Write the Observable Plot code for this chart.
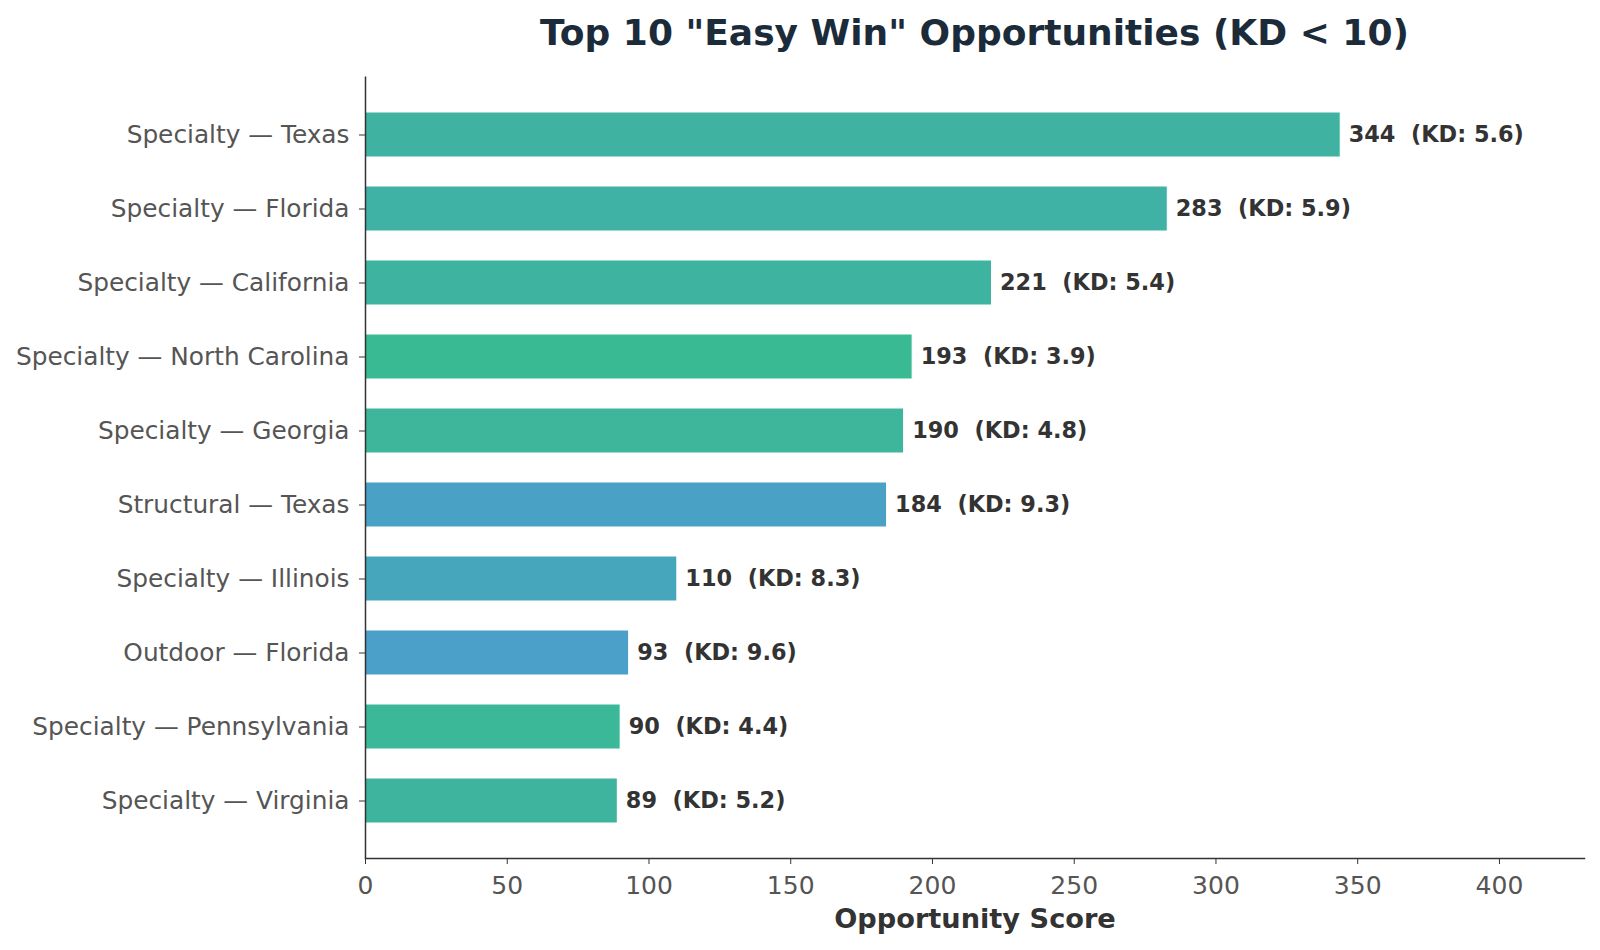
<!DOCTYPE html>
<html>
<head>
<meta charset="utf-8">
<script src="https://cdn.jsdelivr.net/npm/d3@7"></script>
<script src="https://cdn.jsdelivr.net/npm/@observablehq/plot@0.6"></script>
<style>
  html, body { margin: 0; padding: 0; background: #fff; overflow: hidden; }
  body { width: 1600px; height: 950px; font-family: "DejaVu Sans", sans-serif; }
  #title { height: 62px; margin-left: 365px; width: 1219px; text-align: center;
           font-size: 36px; font-weight: bold; color: #1c2b3a; line-height: 66px; white-space: nowrap; overflow: hidden; }
  #chart { height: 888px; }
  #chart svg { display: block; max-width: none; font-family: "DejaVu Sans", sans-serif; }
</style>
</head>
<body>
<div id="title">Top 10 "Easy Win" Opportunities (KD &lt; 10)</div>
<div id="chart"></div>
<script>
const labels = [
  "Specialty — Texas",
  "Specialty — Florida",
  "Specialty — California",
  "Specialty — North Carolina",
  "Specialty — Georgia",
  "Structural — Texas",
  "Specialty — Illinois",
  "Outdoor — Florida",
  "Specialty — Pennsylvania",
  "Specialty — Virginia"
];
const scores = [344, 283, 221, 193, 190, 184, 110, 93, 90, 89];
const kd = [5.6, 5.9, 5.4, 3.9, 4.8, 9.3, 8.3, 9.6, 4.4, 5.2];
const xTicks = [0, 50, 100, 150, 200, 250, 300, 350, 400];
const xLabel = "Opportunity Score";

const data = labels.map((label, i) => ({label, score: scores[i], kd: kd[i]}));

const chart = Plot.plot({
  width: 1600,
  height: 888,
  marginLeft: 365,
  marginRight: 16,
  marginTop: 14.5,
  marginBottom: 92,
  style: {fontFamily: "DejaVu Sans, sans-serif", background: "#fff", maxWidth: "none"},
  x: {domain: [0, 430]},
  y: {domain: labels, paddingInner: 0.39, paddingOuter: 0.468},
  color: {type: "linear", domain: [3.9, 9.6], range: ["#3aba92", "#4aa0c8"]},
  marks: [
    Plot.barX(data, {x: "score", y: "label", fill: "kd", stroke: "white", strokeWidth: 1}),
    Plot.text(data, {
      x: "score", y: "label",
      text: d => `${d.score}  (KD: ${d.kd.toFixed(1)})`,
      textAnchor: "start", dx: 8, fontSize: 22.4, fontWeight: "bold", fill: "#333"
    }),
    Plot.axisY({tickSize: 6, tickPadding: 10, fontSize: 24.8, fill: "#555", stroke: "#333", label: null}),
    Plot.axisX({ticks: xTicks, tickSize: 6, tickPadding: 12, fontSize: 25, fill: "#555", stroke: "#333", label: null}),
    Plot.ruleX([0], {stroke: "#333", strokeWidth: 1.5}),
    Plot.frame({anchor: "bottom", stroke: "#333", strokeWidth: 1.5}),
    Plot.text([xLabel], {frameAnchor: "bottom", dy: 61, fontSize: 27.2, fontWeight: "bold", fill: "#333", lineAnchor: "middle"})
  ]
});
document.getElementById("chart").appendChild(chart);
</script>
</body>
</html>
